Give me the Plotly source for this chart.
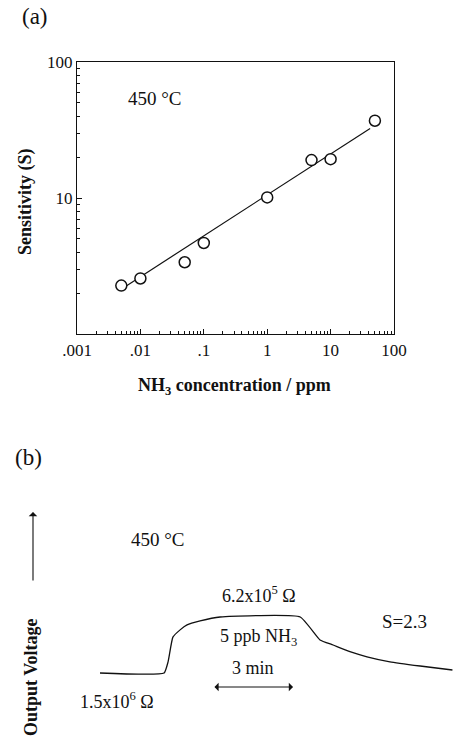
import plotly.graph_objects as go

W, H = 463, 740

# ---- Panel (a) data ----
conc_ppm = [0.005, 0.01, 0.05, 0.1, 1, 5, 10, 50]
sensitivity = [2.27, 2.56, 3.37, 4.67, 10.1, 19.0, 19.3, 37.0]
fit_conc = [0.0055, 42]
fit_sens = [2.2, 32.5]
x_tickvals = [0.001, 0.01, 0.1, 1, 10, 100]
x_ticktext = [".001", ".01", ".1", "1", "10", "100"]
y_tickvals = [10, 100]
y_ticktext = ["10", "100"]
x_minor = [m * 10 ** e for e in range(-3, 2) for m in range(2, 10)]
y_minor = [m * 10 ** e for e in range(0, 2) for m in range(2, 10)]

# ---- Panel (b) data (time in min, relative output voltage) ----
time_min = [0, 2.40, 2.55, 2.73, 3.0, 3.26, 3.75, 4.5, 7.5, 8.24, 8.73, 9.36, 10.0, 10.86, 11.99, 13.2]
voltage = [0, 0, 0.2, 0.64, 0.77, 0.86, 0.93, 1.0, 1.0, 0.59, 0.5, 0.38, 0.29, 0.2, 0.125, 0.054]
arrow_t = [4.23, 7.23]
arrow_v = -0.25

FONT = "Liberation Serif"
BLACK = "#111111"


def P(px, py):
    return px / W, 1 - py / H


fig = go.Figure()

fig.add_trace(go.Scatter(x=fit_conc, y=fit_sens, mode="lines",
                         line=dict(color=BLACK, width=1.2),
                         xaxis="x", yaxis="y", showlegend=False))
fig.add_trace(go.Scatter(x=conc_ppm, y=sensitivity, mode="markers",
                         marker=dict(symbol="circle", size=11, color="white",
                                     line=dict(color=BLACK, width=1.5)),
                         xaxis="x", yaxis="y", showlegend=False))

fig.add_trace(go.Scatter(x=time_min, y=voltage, mode="lines",
                         line=dict(color=BLACK, width=1.3, shape="spline", smoothing=0.4),
                         xaxis="x2", yaxis="y2", showlegend=False))

axis_common = dict(showgrid=False, zeroline=False, showline=True, linecolor=BLACK,
                   linewidth=1.2, mirror=True, ticks="inside", tickcolor=BLACK,
                   automargin=False,
                   tickfont=dict(family=FONT, size=17, color=BLACK))

fig.update_layout(
    template="none",
    width=W, height=H,
    margin=dict(l=0, r=0, t=0, b=0, pad=0, autoexpand=False),
    paper_bgcolor="white", plot_bgcolor="rgba(0,0,0,0)",
    font=dict(family=FONT, color=BLACK),
    xaxis=dict(type="log", domain=[77 / W, 394 / W], range=[-3, 2],
               anchor="y", tickmode="array", tickvals=x_tickvals, ticktext=x_ticktext,
               ticklen=5,
               minor=dict(ticks="inside", ticklen=3, tickcolor=BLACK, tickvals=x_minor),
               **axis_common),
    yaxis=dict(type="log", domain=[1 - 334 / H, 1 - 62 / H], range=[0, 2],
               anchor="x", tickmode="array", tickvals=y_tickvals, ticktext=y_ticktext,
               ticklen=5,
               minor=dict(ticks="inside", ticklen=3, tickcolor=BLACK, tickvals=y_minor),
               **axis_common),
    xaxis2=dict(domain=[0, 1], range=[-100 / 26.7, (W - 100) / 26.7], visible=False,
                anchor="y2", automargin=False),
    yaxis2=dict(domain=[0, 1], range=[(673 - H) / 56, 673 / 56], visible=False,
                anchor="x2", automargin=False),
)

ann = []


def text(px, py, s, size=14, bold=False, angle=0):
    x, y = P(px, py)
    if bold:
        s = "<b>" + s + "</b>"
    ann.append(dict(x=x, y=y, xref="paper", yref="paper", text=s, showarrow=False,
                    textangle=angle, xanchor="center", yanchor="middle",
                    font=dict(family=FONT, size=size, color=BLACK)))


text(35, 16, "(a)", size=23)
text(155, 99, "450 °C", size=19)
text(25, 202, "Sensitivity (S)", size=18, bold=True, angle=-90)
text(234, 386, "NH<sub>3</sub> concentration / ppm", size=18, bold=True)

text(28, 457, "(b)", size=23)
text(158, 539, "450 °C", size=19)
text(31, 677, "Output Voltage", size=18, bold=True, angle=-90)
text(259, 594, "6.2x10<sup>5</sup> Ω", size=18)
text(258, 637, "5 ppb NH<sub>3</sub>", size=18)
text(253, 668, "3 min", size=18)
text(117, 700, "1.5x10<sup>6</sup> Ω", size=18)
text(404, 621, "S=2.3", size=19)

# vertical arrow
x1, y1 = P(33, 512)
ann.append(dict(x=x1, y=y1, ax=0, ay=70, xref="paper", yref="paper",
                axref="pixel", ayref="pixel", text="", showarrow=True,
                arrowhead=1, arrowsize=1.3, arrowwidth=1.1, arrowcolor=BLACK))

# double arrow for 3 min
ann.append(dict(x=arrow_t[1], y=arrow_v, ax=arrow_t[0], ay=arrow_v, xref="x2", yref="y2",
                axref="x2", ayref="y2", text="", showarrow=True,
                arrowhead=1, startarrowhead=1, arrowside="end+start",
                arrowsize=1.4, startarrowsize=1.4,
                arrowwidth=1.0, arrowcolor=BLACK))

fig.update_layout(annotations=ann)

fig.write_html("out.html")
